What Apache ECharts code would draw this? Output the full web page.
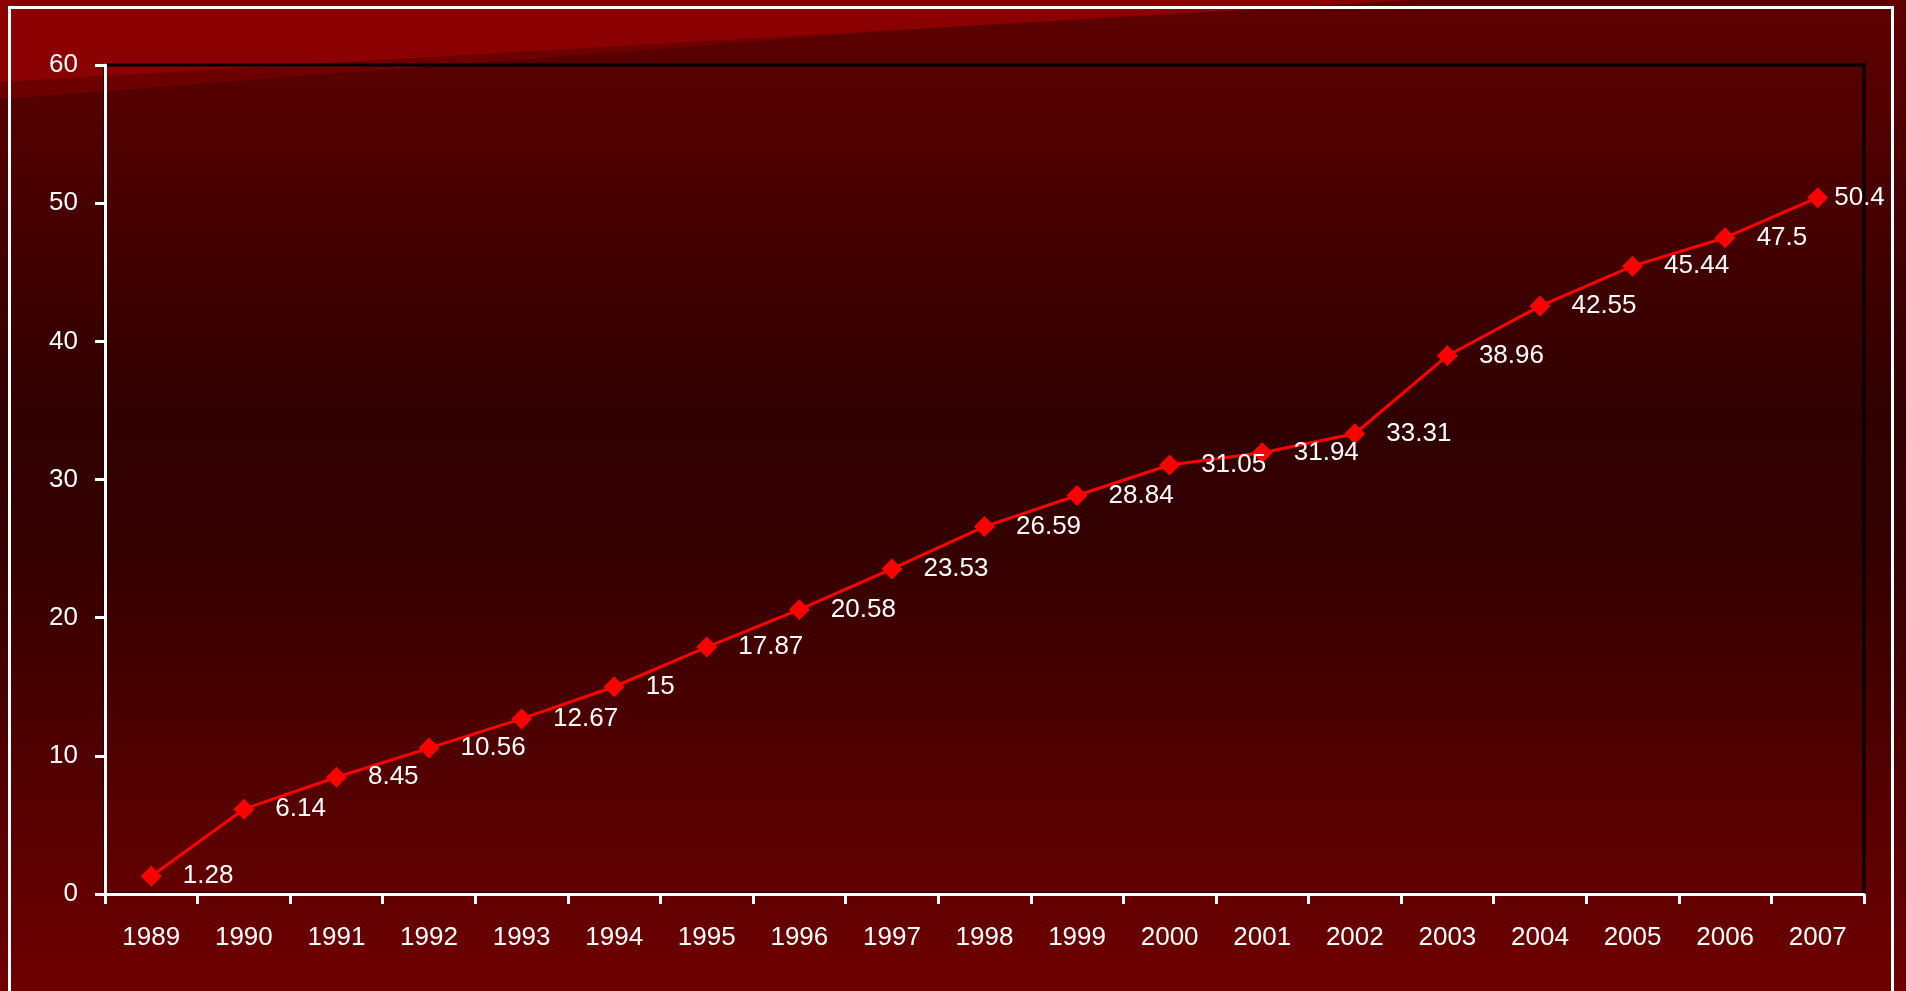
<!DOCTYPE html>
<html><head><meta charset="utf-8">
<script src="https://cdn.jsdelivr.net/npm/echarts@6/dist/echarts.min.js"></script>
<style>html,body{margin:0;padding:0;background:#3a0000;overflow:hidden}#c{width:1906px;height:991px}</style>
</head><body><div id="c"></div>
<script>
const years = ['1989','1990','1991','1992','1993','1994','1995','1996','1997','1998','1999','2000','2001','2002','2003','2004','2005','2006','2007'];
const values = [1.28, 6.14, 8.45, 10.56, 12.67, 15, 17.87, 20.58, 23.53, 26.59, 28.84, 31.05, 31.94, 33.31, 38.96, 42.55, 45.44, 47.5, 50.4];
const yMin = 0, yMax = 60, yStep = 10;

const FONT = 'Liberation Sans';
const chart = echarts.init(document.getElementById('c'));
chart.setOption({
  animation: false,
  graphic: [
    { type: 'rect', z: -100, silent: true, shape: { x: 0, y: 0, width: 1906, height: 991 },
      style: { fill: new echarts.graphic.LinearGradient(0, 0, 0, 1, [
        { offset: 0, color: '#5e0000' }, { offset: 0.1, color: '#540000' },
        { offset: 0.42, color: '#300000' }, { offset: 0.55, color: '#340000' },
        { offset: 0.78, color: '#520000' }, { offset: 1, color: '#6e0000' }]) } },
    { type: 'polygon', z: -99, silent: true, shape: { points: [[0, 0], [1300, 0], [0, 99]] }, style: { fill: '#6c0000' } },
    { type: 'polygon', z: -98, silent: true, shape: { points: [[0, 0], [1414, 0], [0, 82]] }, style: { fill: '#8b0000' } },
    { type: 'rect', z: -90, silent: true, shape: { x: 9.5, y: 7.5, width: 1883, height: 1100 },
      style: { fill: 'none', stroke: '#ffffff', lineWidth: 3 } }
  ],
  grid: { left: 105, right: 42, top: 65, bottom: 97, show: true, borderColor: '#000000', borderWidth: 3, backgroundColor: 'transparent' },
  xAxis: {
    type: 'category', data: years, boundaryGap: true,
    axisLine: { lineStyle: { color: '#ffffff', width: 3 } },
    axisTick: { show: true, length: 10, alignWithLabel: false, lineStyle: { color: '#ffffff', width: 3 } },
    axisLabel: { color: '#ffffff', fontSize: 26, fontFamily: FONT, margin: 31, interval: 0 },
    splitLine: { show: false }
  },
  yAxis: {
    type: 'value', min: yMin, max: yMax, interval: yStep,
    axisLine: { show: true, lineStyle: { color: '#ffffff', width: 3 } },
    axisTick: { show: true, length: 10, lineStyle: { color: '#ffffff', width: 3 } },
    axisLabel: { color: '#ffffff', fontSize: 26, fontFamily: FONT, margin: 27 },
    splitLine: { show: false }
  },
  series: [{
    type: 'line',
    data: values.map((v, i) => i === values.length - 1 ? { value: v, label: { distance: 6 } } : v),
    symbol: 'diamond', symbolSize: 21, showAllSymbol: true,
    lineStyle: { color: '#ff0000', width: 3 },
    itemStyle: { color: '#ff0000' },
    label: { show: true, position: 'right', distance: 21, color: '#ffffff', fontSize: 26, fontFamily: FONT }
  }]
});
</script></body></html>
